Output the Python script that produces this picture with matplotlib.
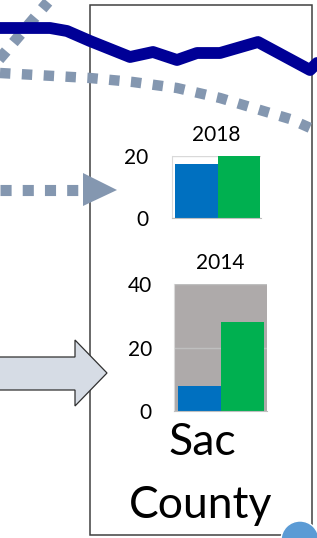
import numpy as np
import matplotlib
matplotlib.use('Agg')
import matplotlib.pyplot as plt
from matplotlib.patches import Polygon, Rectangle, Circle

plt.rcParams['font.family'] = ['Lato', 'DejaVu Sans']

# bar chart values (Sac County)
groups = ['A', 'B']
vals_2018 = [17.5, 20]
vals_2014 = [8, 28]
bar_colors = ['#0070c0', '#00b050']

# decorative trend lines from the slide (pixel space of the crop)
navy_x = [0, 50, 67, 90, 130, 153, 177, 197, 220, 258, 310, 317]
navy_y = [28, 28, 31, 41, 57, 52, 60, 53, 53, 42, 70, 63]
curve_x = [0, 90, 133, 177, 220, 260, 290, 317]
curve_y = [73, 78, 82, 88, 98, 110, 119, 131]
diag_x = [-4, 48]
diag_y = [63, 2]
arrow_x = [0, 80]
arrow_y = [190, 190]

W, H = 317, 538
fig = plt.figure(figsize=(W / 100, H / 100), dpi=100)
ax = fig.add_axes([0, 0, 1, 1])
ax.set_xlim(0, W)
ax.set_ylim(H, 0)
ax.axis('off')

dot_color = '#8497b0'

# frame box
ax.add_patch(Rectangle((90, 5), 222, 530, fill=False, ec='#404040', lw=1.1, zorder=1))

ax.plot(diag_x, diag_y, color=dot_color, lw=8, linestyle=(0, (1, 1)),
        dash_capstyle='butt', zorder=2)
ax.plot(curve_x, curve_y, color=dot_color, lw=7.5, linestyle=(0, (1, 1.1)),
        dash_capstyle='butt', zorder=2)
ax.plot(navy_x, navy_y, color='#000096', lw=8.5, solid_joinstyle='round',
        solid_capstyle='round', zorder=3)

# dotted arrow
ax.plot(arrow_x, arrow_y, color=dot_color, lw=8, linestyle=(0, (1, 1)),
        dash_capstyle='butt', zorder=2)
ax.add_patch(Polygon([[83, 173], [117, 190], [83, 206]], closed=True,
                     fc=dot_color, ec='none', zorder=2))

# block arrow
ax.add_patch(Polygon([[-2, 357], [75, 357], [75, 340], [107, 373], [75, 406],
                      [75, 390], [-2, 390]], closed=True, fc='#d6dce5',
                     ec='#303030', lw=0.9, zorder=2))

# blue circle at bottom right
ax.add_patch(Circle((300, 540), 19, fc='#5b9bd5', ec='white', lw=1.0, zorder=2))

ax.text(202, 455, 'Sac', fontsize=32, ha='center', va='baseline', color='black')
ax.text(201, 518, 'County', fontsize=32, ha='center', va='baseline', color='black')


def inset(px_left, px_right, px_top, px_bottom):
    return fig.add_axes([px_left / W, 1 - px_bottom / H,
                         (px_right - px_left) / W, (px_bottom - px_top) / H])


# 2018 chart
a1 = inset(172, 261, 156, 218)
a1.bar([0, 1], vals_2018, width=1.0, color=bar_colors, zorder=2)
a1.set_xlim(-0.57, 1.52)
a1.set_ylim(0, 20)
a1.set_yticks([0, 20])
a1.set_xticks([])
a1.yaxis.grid(True, color='#d9d9d9', lw=1)
a1.set_axisbelow(True)
for s in ['top', 'right']:
    a1.spines[s].set_visible(False)
a1.spines['left'].set_color('#d9d9d9')
a1.spines['bottom'].set_color('#bfbfbf')
a1.tick_params(axis='y', length=0, pad=17, labelsize=15)
a1.set_title('2018', fontsize=15, pad=11)

# 2014 chart
a2 = inset(174, 267, 284, 411)
a2.set_facecolor('#aeaaaa')
a2.bar([0, 1], vals_2014, width=1.0, color=bar_colors, zorder=2)
a2.set_xlim(-0.59, 1.57)
a2.set_ylim(0, 40)
a2.set_yticks([0, 20, 40])
a2.set_xticks([])
a2.yaxis.grid(True, color='#bfbfbf', lw=1)
a2.set_axisbelow(True)
for s in ['top', 'right']:
    a2.spines[s].set_visible(False)
a2.spines['left'].set_color('#d9d9d9')
a2.spines['bottom'].set_color('#bfbfbf')
a2.tick_params(axis='y', length=0, pad=16, labelsize=15)
a2.set_title('2014', fontsize=15, pad=11)

fig.savefig('out.png', dpi=100)
